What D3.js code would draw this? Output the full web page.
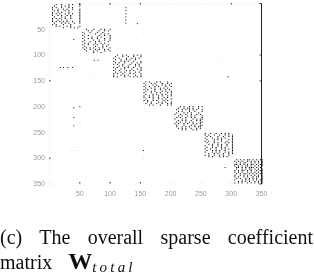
<!DOCTYPE html>
<html><head><meta charset="utf-8">
<script src="https://d3js.org/d3.v7.min.js"></script>
<style>html,body{margin:0;padding:0;background:#fff}svg{display:block}</style>
</head><body><svg id="c" width="314" height="274"></svg>
<script>
const tickValues = [50,100,150,200,250,300,350];
const topDarkTicks = [50,100,150,300];
const bottomDarkTicks = [50,100,150];
const leftDarkTicks = [150,300];
const rightDarkTicks = [100,150];
const cellUnits = 3;
const blockOrigins = [[5,2],[55,50],[106,100],[156,152],[207,200],[257,252],[306,303]];
const block1 = [
"..#..#...#.#...#",
".#...#.#.#.....#",
"#.#..#...#.#....",
"#..#..#.#..#...#",
".#.#...#.#.....#",
"#..#.#...#.....#",
"#.#.#..#.#.#...#",
"#..#.#..#.#....#",
".#...#.#..#....#",
"#.#.#..#..#....#",
"#..#.#..#......#",
"#.#.#.#.#..#...#",
".#...#.#.#..#..#",
"#.#...#...#.....",
"..#.#...#.#....#",
"......#...#.#.#."];
const block2 = [
"..#...#...#.#..#",
"...#.#...#..#.#.",
"#...#...#..#....",
".#.....#..#.#.#.",
"#..#.....#..#..#",
".#...#..#.#....#",
"#..#.#..#...#..#",
".#....#..#..#..#",
"#...#..#.#....#.",
".#.#...#..#.#...",
"#..#..#.#..#..#.",
".#.....#...#.#..",
"#.#.#.#..#.#...#",
".#..#..#.#..#.#.",
"..#...#.#...#..#",
"......#...#....."];
const block3 = [
"..#..#.#...#.#.#",
".#...#..#..#...#",
"#..#...#..#.#.#.",
".#..#..#.#..#...",
"#...#.#.#..#...#",
".#.#..#...#..#.#",
"#.#..#...#..#.#.",
"...#.#..#...#.#.",
"#.#...#.#..#...#",
".#..#.#...#..#.#",
"#..#...#.#.#...#",
".#..#.#..#..#.#.",
"#.#..#...#.#...#",
"#...#.#.#...#..#",
"#.#...#..#.#.#.#"];
const block4 = [
".#.#...#.#...#..",
"#...#.#...#..#.#",
".#...#.#..#.#.#.",
"#..#..#.#...#..#",
".#..#.#..#.#.#..",
"#.#...#..#..#.#.",
".#..#.#...#.#..#",
"#...#..#.#...#.#",
".#...#.#..#.#..#",
"#..#.#..#.#..#.#",
"#..#.#..#..#.#..",
".#...#..#.#.#..#",
"#.#..#.#...#.#..",
"..#.#...#.#.#..#",
".#..#..#..#..#.#",
"...#.#...#...#.#"];
const block5 = [
"...#.#..#.#..#.#",
"..#..#.##.#..#..",
".#..#.#.#.#.#..#",
"..#.#...#..#...#",
".#...#.#.#...#..",
"#..#..#..#..#.#.",
"..#.#..#.#.#...#",
".#.#..#..#.#...#",
"#...#.#...#.#.##",
"..#.#.#..#..#.#.",
".#.#..#.#.#...##",
"#.#..#.#..#.#.#.",
".#...#...#.#..##",
".#..#.#.#..#.##.",
"..#.#.#..#..#.#.",
"....#.#...#.#..."];
const block6 = [
"#..#..#..#.#.#..",
"#.#..#..#..#.#.#",
".#.#...#..#..#.#",
"#...#..#.#.#...#",
".#...#.#.#...#.#",
"#.#..#...#..#..#",
".#...#.#...#.#.#",
"..#.#..#.#..#..#",
"#...#..#.#..#..#",
".#..#.#..#.#...#",
"#..#..#..#.#.#.#",
".#..#.#.#..#...#",
"#...#.#.#..#.#.#",
"..#..#.#..#..#.#",
"#.#..#..#.#..#..",
"..#.#...#.#.#..."];
const block7 = [
".#.#.#.##.#.#.##",
"#.#.#..#.#.#.#.#",
".#.#.##..#.#.#.#",
"##.#.#.#.##.#.##",
"#.#.#.##.#.#.#.#",
".##.#.#.###.#.#.",
".#..#.#.##.#.#.#",
"#.#.##.#.#..#.##",
"#.#.#..#.#.#.#.#",
".#.#.##.#.#.#.##",
"#..#.#.#.#.#.#.#",
"#.#..#.#..#.##.#",
".#.#..#.#.#.#..#",
"#...#.#.#.#.#.##",
"..#.#.#.#..#.#.#",
"#.#.#..#.#.#.#.#"];
const blocks = [block1,block2,block3,block4,block5,block6,block7];
const strongPoints = [[126,8],[126,14],[126,20],[126,26],[126,32],[126,38],[145,39],[40,70],[74,110],[80,110],[40,202],[50,200],[40,221],[40,237],[155,285],[295,142],[290,318],[18,124],[23,124],[30,124],[38,124]];
const faintPoints = [[46,235],[51,231],[36,285],[43,285],[48,285],[155,300],[285,110],[145,70],[73,140],[45,340]];
const captionLine1 = ["(c)","The","overall","sparse","coefficient"];
const captionMatrix = "matrix";
const captionSymbol = "W";
const captionSub = "total";

const svg = d3.select("#c");
const x = d3.scaleLinear().domain([0,350]).range([49,261]);
const y = d3.scaleLinear().domain([0,350]).range([3,183.5]);
const defs = svg.append("defs");
defs.append("filter").attr("id","soft").append("feGaussianBlur").attr("stdDeviation",0.4);
defs.append("filter").attr("id","soft2").append("feGaussianBlur").attr("stdDeviation",0.3);

const plot = svg.append("g").attr("filter","url(#soft2)");
const cells = [];
blocks.forEach((rows,b)=>rows.forEach((r,i)=>[...r].forEach((c,j)=>{
  if(c==="#") cells.push([blockOrigins[b][0]+j*cellUnits, blockOrigins[b][1]+i*cellUnits]);
})));
const dot = (sel,data,op)=>sel.selectAll(null).data(data).join("rect")
  .attr("x",d=>x(d[0])).attr("y",d=>y(d[1])).attr("width",1.05).attr("height",1.05)
  .attr("fill","#000").attr("opacity",op);
dot(plot,cells,1);
dot(plot,strongPoints,.85);
dot(plot,faintPoints,.14);

const fmt = d3.format("d");
const axes = svg.append("g").attr("filter","url(#soft)");
const styleAxis = (g,dark)=>{
  g.selectAll("text").attr("fill","#9a9a9a").attr("font-family","Liberation Sans, sans-serif").attr("font-size",7);
  g.selectAll(".tick line").attr("stroke",d=>dark.includes(d)?"#111":"#e4e4e4").attr("stroke-width",.9);
  g.select(".domain").attr("stroke","#f1f1f1").attr("stroke-width",.5);
};
axes.append("g").attr("transform","translate(0,183.5)")
  .call(d3.axisBottom(x).tickValues(tickValues).tickFormat(fmt).tickSize(-1.5).tickPadding(8)).call(styleAxis,bottomDarkTicks);
axes.append("g").attr("transform","translate(49,0)")
  .call(d3.axisLeft(y).tickValues(tickValues).tickFormat(fmt).tickSize(-1.5).tickPadding(4)).call(styleAxis,leftDarkTicks);
axes.append("g").attr("transform","translate(0,3)")
  .call(d3.axisTop(x).tickValues(tickValues).tickFormat("").tickSize(-1.5)).call(styleAxis,topDarkTicks);
const right = svg.append("g").attr("transform","translate(261,0)")
  .call(d3.axisRight(y).tickValues(tickValues).tickFormat("").tickSize(-1.5));
right.select(".domain").attr("stroke","#222").attr("stroke-width",1);
right.selectAll(".tick line").attr("stroke",d=>rightDarkTicks.includes(d)?"#222":"none").attr("stroke-width",.8);

const cap = svg.append("g").attr("font-family","Liberation Serif, serif").attr("font-size",20).attr("fill","#111").attr("filter","url(#soft2)");
const l1 = cap.append("text").attr("x",0).attr("y",244).text(captionLine1.join(" "));
const w = l1.node().getComputedTextLength();
l1.attr("word-spacing",(313-w)/(captionLine1.length-1));
const l2 = cap.append("text").attr("x",0).attr("y",269);
l2.append("tspan").text(captionMatrix+" ");
l2.append("tspan").attr("dx",11).attr("font-weight","bold").attr("font-size",24).text(captionSymbol);
l2.append("tspan").attr("font-style","italic").attr("font-size",15).attr("dy",3).attr("letter-spacing",3.2).text(captionSub);
</script></body></html>
